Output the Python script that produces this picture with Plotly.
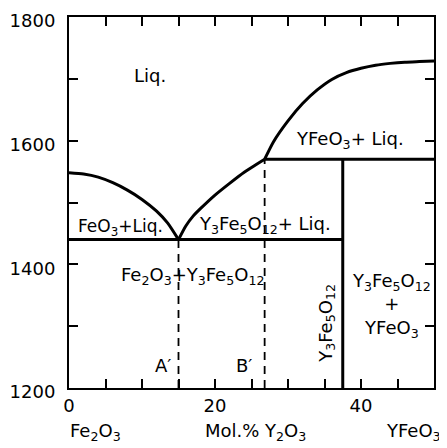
import plotly.graph_objects as go

# Liquidus curves (mol % Y2O3, temperature °C)
left_liq_x = [0, 2, 4, 6, 8, 10, 12, 13.5, 15.0]
left_liq_T = [1548, 1546, 1541, 1532, 1520, 1505, 1486, 1467, 1440]
mid_liq_x = [15.0, 16, 17, 18, 20, 22, 24, 26.8]
mid_liq_T = [1440, 1462, 1478, 1490, 1512, 1531, 1549, 1570]
top_liq_x = [26.8, 28, 30, 32, 34, 36, 38, 40, 42, 44, 46, 48, 50.0]
top_liq_T = [1570, 1598, 1632, 1660, 1682, 1699, 1710, 1717, 1722, 1725, 1727, 1728, 1729]

# Invariant lines
eutectic_x = [0, 37.5]
eutectic_T = [1440, 1440]
peritectic_x = [26.8, 50]
peritectic_T = [1570, 1570]
garnet_x = [37.5, 37.5]
garnet_T = [1200, 1570]
dashA_x = [15.0, 15.0]
dashA_T = [1200, 1440]
dashB_x = [26.8, 26.8]
dashB_T = [1200, 1570]

x_tickvals = [0, 20, 40]
y_tickvals = [1200, 1400, 1600, 1800]

FONT = "DejaVu Sans"
fig = go.Figure()
solid = dict(color="black", width=3)
dashed = dict(color="black", width=1.8, dash="8px,6px")

for xs, ys in [(left_liq_x, left_liq_T), (mid_liq_x, mid_liq_T), (top_liq_x, top_liq_T)]:
    fig.add_trace(go.Scatter(x=xs, y=ys, mode="lines",
                             line=dict(color="black", width=3, shape="spline", smoothing=0.6),
                             hoverinfo="skip"))
for xs, ys in [(eutectic_x, eutectic_T), (peritectic_x, peritectic_T), (garnet_x, garnet_T)]:
    fig.add_trace(go.Scatter(x=xs, y=ys, mode="lines", line=solid, hoverinfo="skip"))
for xs, ys in [(dashA_x, dashA_T), (dashB_x, dashB_T)]:
    fig.add_trace(go.Scatter(x=xs, y=ys, mode="lines", line=dashed, hoverinfo="skip"))

labels = [
    (11.1, 1705, "Liq.", 0, 18),
    (38.5, 1601, "YFeO<sub>3</sub>+ Liq.", 0, 18),
    (7.0, 1460, "FeO<sub>3</sub>+Liq.", 0, 17),
    (26.8, 1464, "Y<sub>3</sub>Fe<sub>5</sub>O<sub>12</sub>+ Liq.", 0, 18),
    (16.9, 1381, "Fe<sub>2</sub>O<sub>3</sub>+Y<sub>3</sub>Fe<sub>5</sub>O<sub>12</sub>", 0, 18),
    (12.9, 1237, "A′", 0, 18),
    (24.0, 1237, "B′", 0, 18),
    (35.3, 1305, "Y<sub>3</sub>Fe<sub>5</sub>O<sub>12</sub>", -90, 18),
    (44.2, 1333, "Y<sub>3</sub>Fe<sub>5</sub>O<sub>12</sub><br>+<br>YFeO<sub>3</sub>", 0, 18),
]
for x, y, t, rot, fs in labels:
    fig.add_annotation(x=x, y=y, text=t, showarrow=False, textangle=rot,
                       font=dict(family=FONT, size=fs, color="black"))

# Bottom captions (paper coords relative to plot area: x 69..434 px, y 17..388 px of the window)
bottom = [
    (95, "Fe<sub>2</sub>O<sub>3</sub>"),
    (255, "Mol.% Y<sub>2</sub>O<sub>3</sub>"),
    (413, "YFeO<sub>3</sub>"),
]
for px, t in bottom:
    fig.add_annotation(x=(px - 69) / 365, y=-(432 - 388) / 371, xref="paper", yref="paper",
                       xanchor="center", yanchor="middle", text=t, showarrow=False,
                       font=dict(family=FONT, size=18, color="black"))

axis_common = dict(showline=True, linewidth=2, linecolor="black", mirror="allticks",
                   ticks="inside", ticklen=9, tickwidth=1.5, tickcolor="black",
                   showgrid=False, zeroline=False, automargin=False,
                   ticklabeloverflow="allow",
                   tickfont=dict(family=FONT, size=18, color="black"))
fig.update_xaxes(range=[0, 50], tickvals=x_tickvals,
                 minor=dict(dtick=5, tick0=0, ticks="inside", ticklen=9, tickwidth=1.5, tickcolor="black", showgrid=False),
                 **axis_common)
fig.update_yaxes(range=[1200, 1800], tickvals=y_tickvals,
                 minor=dict(dtick=100, tick0=1200, ticks="inside", ticklen=9, tickwidth=1.5, tickcolor="black", showgrid=False),
                 ticklabelstandoff=8, ticklabelshift=4, **axis_common)
# page body has an 8px margin, so the figure is sized/offset to land the plot at x 69..434, y 17..388
fig.update_layout(width=439, height=440, margin=dict(l=61, r=13, t=9, b=60, autoexpand=False),
                  plot_bgcolor="white", paper_bgcolor="white", showlegend=False,
                  font=dict(family=FONT, color="black"))
fig.write_html("out.html")
